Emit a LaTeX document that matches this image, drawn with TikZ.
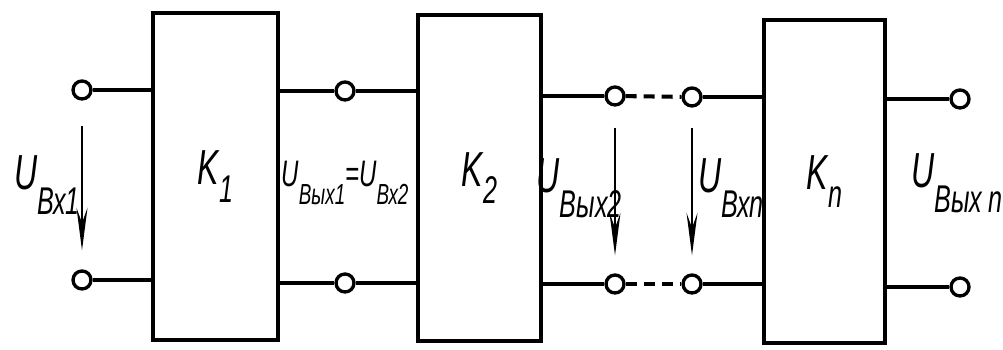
\documentclass[tikz,border=0pt]{standalone}
\usepackage{fontspec}
\setmainfont{Liberation Sans}
\newfontfamily\drawfont[FakeStretch=0.65]{Liberation Sans}
\usetikzlibrary{arrows.meta,positioning}

\newcommand{\ulbl}[1]{U\raisebox{-0.5em}{\fontsize{22}{22}\selectfont #1}}
\newcommand{\klbl}[1]{K\raisebox{-0.35em}{\fontsize{22}{22}\selectfont #1}}

\begin{document}
\begin{tikzpicture}[
    x=0.02cm, y=-0.02cm,
    block/.style={draw, line width=2.2pt, inner sep=0pt,
        font=\drawfont\itshape\fontsize{28}{30}\selectfont},
    term/.style={circle, draw, line width=1.9pt, fill=white, minimum size=0.36cm, inner sep=0pt},
    wire/.style={line width=2.3pt},
    volt/.style={-{Stealth[length=0.85cm,width=0.22cm,inset=0.3cm]}, line width=1.2pt},
    lbl/.style={inner sep=0pt, font=\drawfont\itshape\fontsize{28}{30}\selectfont}
]
\useasboundingbox (0,0) rectangle (1003,350);

% blocks
\node[block, minimum width=2.5cm, minimum height=6.54cm] (K1) at (215.5,176.5) {\klbl{1}};
\node[block, minimum width=2.46cm, minimum height=6.52cm] (K2) at (479.5,178) {\klbl{2}};
\node[block, minimum width=2.42cm, minimum height=6.46cm] (Kn) at (824.5,181.5) {\klbl{n}};

% terminals
\node[term] (a1) at (82,90) {};
\node[term] (a2) at (82,280) {};
\node[term] (b1) at (345,91) {};
\node[term] (b2) at (345,283) {};
\node[term] (c1) at (615,96) {};
\node[term] (c2) at (615,284) {};
\node[term] (d1) at (692,97) {};
\node[term] (d2) at (692,284) {};
\node[term] (e1) at (960,99) {};
\node[term] (e2) at (960,287) {};

% wires
\draw[wire] (a1) -- (a1 -| K1.west);
\draw[wire] (a2) -- (a2 -| K1.west);
\draw[wire] (b1 -| K1.east) -- (b1) -- (b1 -| K2.west);
\draw[wire] (b2 -| K1.east) -- (b2) -- (b2 -| K2.west);
\draw[wire] (c1 -| K2.east) -- (c1);
\draw[wire] (c2 -| K2.east) -- (c2);
\draw[wire, dash pattern=on 0.22cm off 0.14cm] (c1) -- (d1);
\draw[wire, dash pattern=on 0.22cm off 0.14cm] (c2) -- (d2);
\draw[wire] (d1) -- (d1 -| Kn.west);
\draw[wire] (d2) -- (d2 -| Kn.west);
\draw[wire] (e1 -| Kn.east) -- (e1);
\draw[wire] (e2 -| Kn.east) -- (e2);

% voltages
\draw[volt, shorten <=0.5cm, shorten >=0.38cm] (a1) -- (a2);
\draw[volt, shorten <=0.42cm, shorten >=0.36cm] (c1) -- (c2);
\draw[volt, shorten <=0.4cm, shorten >=0.36cm] (d1) -- (d2);

\node[lbl, anchor=east] (u1) at (80,185) {\ulbl{Вх1}};
\node[lbl] (u12) at (345,183) {\scalebox{0.75}{\ulbl{Вых1}=\ulbl{Вх2}}};
\node[lbl, anchor=east] (u2) at (622,188) {\ulbl{Вых2}};
\node[lbl, anchor=west] (un) at (698,188) {\ulbl{Вхn}};
\node[lbl, anchor=east] (uo) at (1003,183) {\ulbl{Вых\,n}};
\end{tikzpicture}
\end{document}
